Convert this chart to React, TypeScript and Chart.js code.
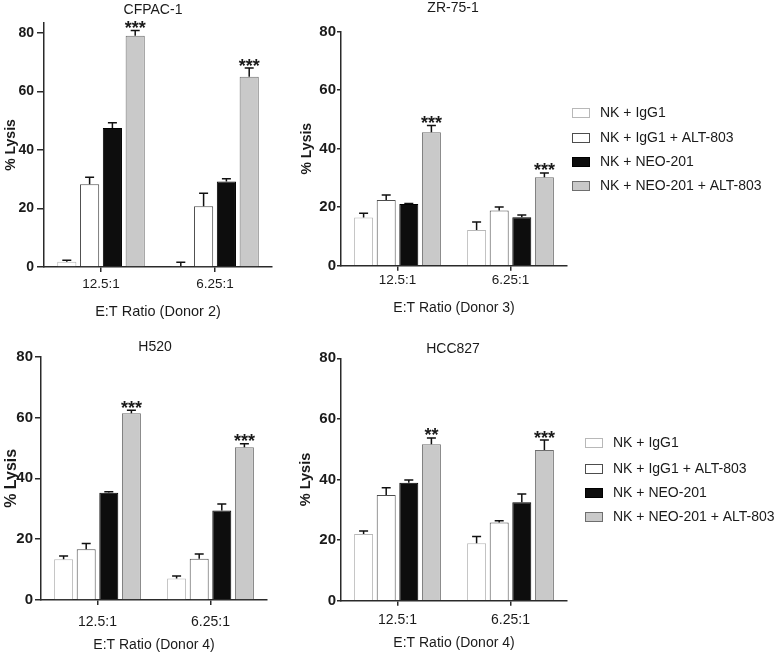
import React, { useEffect, useRef } from "react";
import { Chart, registerables } from "chart.js";

Chart.register(...registerables);

const FONT = "'Liberation Sans', Arial, Helvetica, sans-serif";
const TXT = "#1a1a1a";
const AXIS = "#2a2a2a";
const W = 777;
const H = 654;

// ---------- data ----------
const categories = ["12.5:1", "6.25:1"];
const seriesLabels = ["NK + IgG1", "NK + IgG1 + ALT-803", "NK + NEO-201", "NK + NEO-201 + ALT-803"];
const seriesFill = ["#ffffff", "#ffffff", "#0d0d0d", "#c9c9c9"];
const seriesBorder = ["#b8b8b8", "#4d4d4d", "#000000", "#6e6e6e"];
const yTickValues = [0, 20, 40, 60, 80];

// CFPAC-1 (Donor 2)
const cfpacIgG1 = [1.8, 0.3];
const cfpacIgG1Err = [0.5, 1.3];
const cfpacIgG1Alt = [28.3, 20.8];
const cfpacIgG1AltErr = [2.4, 4.4];
const cfpacNeo = [47.5, 29.2];
const cfpacNeoErr = [1.8, 1.0];
const cfpacNeoAlt = [79.0, 65.0];
const cfpacNeoAltErr = [1.8, 3.0];
const cfpacStars = ["***", "***"];

// ZR-75-1 (Donor 3)
const zrIgG1 = [16.5, 12.2];
const zrIgG1Err = [1.4, 2.7];
const zrIgG1Alt = [22.5, 18.9];
const zrIgG1AltErr = [1.7, 1.2];
const zrNeo = [21.1, 16.6];
const zrNeoErr = [0.2, 0.7];
const zrNeoAlt = [45.6, 30.2];
const zrNeoAltErr = [2.3, 1.5];
const zrStars = ["***", "***"];

// H520 (Donor 4)
const h520IgG1 = [13.4, 7.1];
const h520IgG1Err = [1.1, 0.8];
const h520IgG1Alt = [16.7, 13.6];
const h520IgG1AltErr = [1.9, 1.5];
const h520Neo = [35.3, 29.4];
const h520NeoErr = [0.3, 2.2];
const h520NeoAlt = [61.4, 50.2];
const h520NeoAltErr = [1.0, 1.2];
const h520Stars = ["***", "***"];

// HCC827 (Donor 4)
const hccIgG1 = [22.0, 19.0];
const hccIgG1Err = [1.0, 2.2];
const hccIgG1Alt = [34.9, 25.8];
const hccIgG1AltErr = [2.4, 0.6];
const hccNeo = [38.9, 32.5];
const hccNeoErr = [0.9, 2.7];
const hccNeoAlt = [51.6, 49.7];
const hccNeoAltErr = [2.1, 3.3];
const hccStars = ["**", "***"];

// ---------- panel layout ----------
type Panel = {
  title: string;
  xTitle: string;
  values: number[][];
  errors: number[][];
  stars: string[];
  yMax: number;
  box: { left: number; right: number; top: number; bottom: number };
  yTitleX: number;
  xLabelOff: number;
  xTitleOff: number;
  titleX: number;
  titleY: number;
  yTickSize: number;
  yTitleSize: number;
  xTickSize: number;
  xTitleSize: number;
  yTickLen: number;
  yTickPad: number;
  legend?: { boxX: number; textX: number; ys: number[] };
};

const panels: Panel[] = [
  {
    title: "CFPAC-1",
    xTitle: "E:T Ratio (Donor 2)",
    values: [cfpacIgG1, cfpacIgG1Alt, cfpacNeo, cfpacNeoAlt],
    errors: [cfpacIgG1Err, cfpacIgG1AltErr, cfpacNeoErr, cfpacNeoAltErr],
    stars: cfpacStars,
    yMax: 83.4,
    box: { left: 44, right: 272, top: 23, bottom: 267 },
    yTitleX: 11,
    xLabelOff: 17,
    xTitleOff: 45,
    titleX: 153,
    titleY: 10,
    yTickSize: 14,
    yTitleSize: 14,
    xTickSize: 13.5,
    xTitleSize: 14.5,
    yTickLen: 7,
    yTickPad: 3,
  },
  {
    title: "ZR-75-1",
    xTitle: "E:T Ratio (Donor 3)",
    values: [zrIgG1, zrIgG1Alt, zrNeo, zrNeoAlt],
    errors: [zrIgG1Err, zrIgG1AltErr, zrNeoErr, zrNeoAltErr],
    stars: zrStars,
    yMax: 80,
    box: { left: 341, right: 567, top: 31.7, bottom: 265.7 },
    yTitleX: 307,
    xLabelOff: 14.3,
    xTitleOff: 42.6,
    titleX: 453,
    titleY: 8.5,
    yTickSize: 15,
    yTitleSize: 14,
    xTickSize: 13.5,
    xTitleSize: 14,
    yTickLen: 4,
    yTickPad: 1,
    legend: { boxX: 572, textX: 600, ys: [113, 138, 162, 186] },
  },
  {
    title: "H520",
    xTitle: "E:T Ratio (Donor 4)",
    values: [h520IgG1, h520IgG1Alt, h520Neo, h520NeoAlt],
    errors: [h520IgG1Err, h520IgG1AltErr, h520NeoErr, h520NeoAltErr],
    stars: h520Stars,
    yMax: 80,
    box: { left: 41, right: 267, top: 356.7, bottom: 600 },
    yTitleX: 12,
    xLabelOff: 22.5,
    xTitleOff: 45,
    titleX: 155,
    titleY: 347.5,
    yTickSize: 15,
    yTitleSize: 16,
    xTickSize: 14,
    xTitleSize: 14,
    yTickLen: 6,
    yTickPad: 2,
  },
  {
    title: "HCC827",
    xTitle: "E:T Ratio (Donor 4)",
    values: [hccIgG1, hccIgG1Alt, hccNeo, hccNeoAlt],
    errors: [hccIgG1Err, hccIgG1AltErr, hccNeoErr, hccNeoAltErr],
    stars: hccStars,
    yMax: 80,
    box: { left: 341, right: 567, top: 358.3, bottom: 600.7 },
    yTitleX: 306,
    xLabelOff: 19.3,
    xTitleOff: 42.6,
    titleX: 453,
    titleY: 349,
    yTickSize: 15,
    yTitleSize: 14.5,
    xTickSize: 14,
    xTitleSize: 14,
    yTickLen: 4,
    yTickPad: 1,
    legend: { boxX: 585, textX: 613, ys: [443, 469, 493, 517] },
  },
];

function buildChart(canvas: HTMLCanvasElement, p: Panel) {
  const yTitleLH = p.yTitleSize * 1.2;
  const yScaleLeft = p.yTitleX - yTitleLH / 2;
  const yW = p.box.left - yScaleLeft;
  const xTitleLH = p.xTitleSize * 1.2;
  const xTickLH = p.xTickSize * 1.2;
  const xTickLen = 5;
  const xH = p.xTitleOff + xTitleLH / 2;
  const xTickPad = p.xLabelOff - xTickLen - xTickLH / 2;

  const deco = {
    id: "deco" + p.title,
    afterDatasetsDraw(chart: any) {
      const ctx = chart.ctx;
      const ys = chart.scales.y;
      ctx.save();
      chart.data.datasets.forEach((ds: any, i: number) => {
        const meta = chart.getDatasetMeta(i);
        meta.data.forEach((el: any, j: number) => {
          const v = ds.data[j];
          const e = p.errors[i][j];
          const yv = ys.getPixelForValue(v);
          const ye = ys.getPixelForValue(v + e);
          ctx.strokeStyle = "#111";
          ctx.lineWidth = 1.5;
          ctx.beginPath();
          ctx.moveTo(el.x, yv);
          ctx.lineTo(el.x, ye);
          ctx.moveTo(el.x - 4.5, ye);
          ctx.lineTo(el.x + 4.5, ye);
          ctx.stroke();
          if (i === 3 && p.stars[j]) {
            ctx.fillStyle = TXT;
            ctx.font = `bold 18px ${FONT}`;
            ctx.textAlign = "center";
            ctx.textBaseline = "alphabetic";
            ctx.fillText(p.stars[j], el.x, ye + 3.5);
          }
        });
      });
      ctx.restore();
    },
    afterDraw(chart: any) {
      const ctx = chart.ctx;
      ctx.save();
      ctx.fillStyle = TXT;
      ctx.font = `14px ${FONT}`;
      ctx.textAlign = "center";
      ctx.textBaseline = "middle";
      ctx.fillText(p.title, p.titleX, p.titleY);
      if (p.legend) {
        const lg = p.legend;
        seriesLabels.forEach((lab, i) => {
          const y = lg.ys[i];
          ctx.fillStyle = seriesFill[i];
          ctx.fillRect(lg.boxX, y - 4.5, 18, 9);
          ctx.strokeStyle = seriesBorder[i];
          ctx.lineWidth = 1;
          ctx.strokeRect(lg.boxX + 0.5, y - 4.5, 17, 9);
          ctx.fillStyle = TXT;
          ctx.font = `14px ${FONT}`;
          ctx.textAlign = "left";
          ctx.textBaseline = "middle";
          ctx.fillText(lab, lg.textX, y);
        });
      }
      ctx.restore();
    },
  };

  return new Chart(canvas, {
    type: "bar",
    data: {
      labels: categories,
      datasets: seriesLabels.map((label, i) => ({
        label,
        data: p.values[i],
        backgroundColor: seriesFill[i],
        borderColor: seriesBorder[i],
        borderWidth: 1,
        borderSkipped: "start",
        categoryPercentage: 0.8,
        barPercentage: 0.84,
      })),
    },
    options: {
      responsive: false,
      animation: false,
      devicePixelRatio: 1,
      events: [],
      layout: {
        padding: {
          left: yScaleLeft,
          right: W - p.box.right,
          top: p.box.top,
          bottom: H - p.box.bottom - xH,
        },
      },
      plugins: {
        legend: { display: false },
        tooltip: { enabled: false },
        title: { display: false },
      },
      scales: {
        x: {
          type: "category",
          offset: true,
          afterFit: (s: any) => {
            s.height = xH;
          },
          border: { display: true, color: AXIS, width: 1.5 },
          grid: {
            display: true,
            offset: false,
            drawOnChartArea: false,
            drawTicks: true,
            tickLength: xTickLen,
            color: AXIS,
            lineWidth: 1.5,
          },
          ticks: {
            padding: xTickPad,
            color: TXT,
            maxRotation: 0,
            font: { family: FONT, size: p.xTickSize },
          },
          title: {
            display: true,
            text: p.xTitle,
            color: TXT,
            font: { family: FONT, size: p.xTitleSize },
            padding: { top: 0, bottom: 0 },
          },
        },
        y: {
          type: "linear",
          min: 0,
          max: p.yMax,
          afterBuildTicks: (s: any) => {
            s.ticks = yTickValues.map((v) => ({ value: v }));
          },
          afterFit: (s: any) => {
            s.width = yW;
          },
          border: { display: true, color: AXIS, width: 1.5 },
          grid: {
            display: true,
            drawOnChartArea: false,
            drawTicks: true,
            tickLength: p.yTickLen,
            color: AXIS,
            lineWidth: 1.5,
          },
          ticks: {
            padding: p.yTickPad,
            color: TXT,
            font: { family: FONT, size: p.yTickSize, weight: "bold" },
          },
          title: {
            display: true,
            text: "% Lysis",
            color: TXT,
            font: { family: FONT, size: p.yTitleSize, weight: "bold" },
            padding: { top: 0, bottom: 0 },
          },
        },
      },
    } as any,
    plugins: [deco],
  });
}

function PanelCanvas({ panel }: { panel: Panel }) {
  const ref = useRef<HTMLCanvasElement | null>(null);
  useEffect(() => {
    if (!ref.current) return;
    const chart = buildChart(ref.current, panel);
    return () => chart.destroy();
  }, [panel]);
  return (
    <canvas
      ref={ref}
      width={W}
      height={H}
      style={{ position: "absolute", left: 0, top: 0, width: W, height: H }}
    />
  );
}

export default function App() {
  return (
    <div
      style={{
        position: "absolute",
        left: 0,
        top: 0,
        width: W,
        height: H,
        background: "#ffffff",
        overflow: "hidden",
      }}
    >
      {panels.map((p) => (
        <PanelCanvas key={p.title} panel={p} />
      ))}
    </div>
  );
}
